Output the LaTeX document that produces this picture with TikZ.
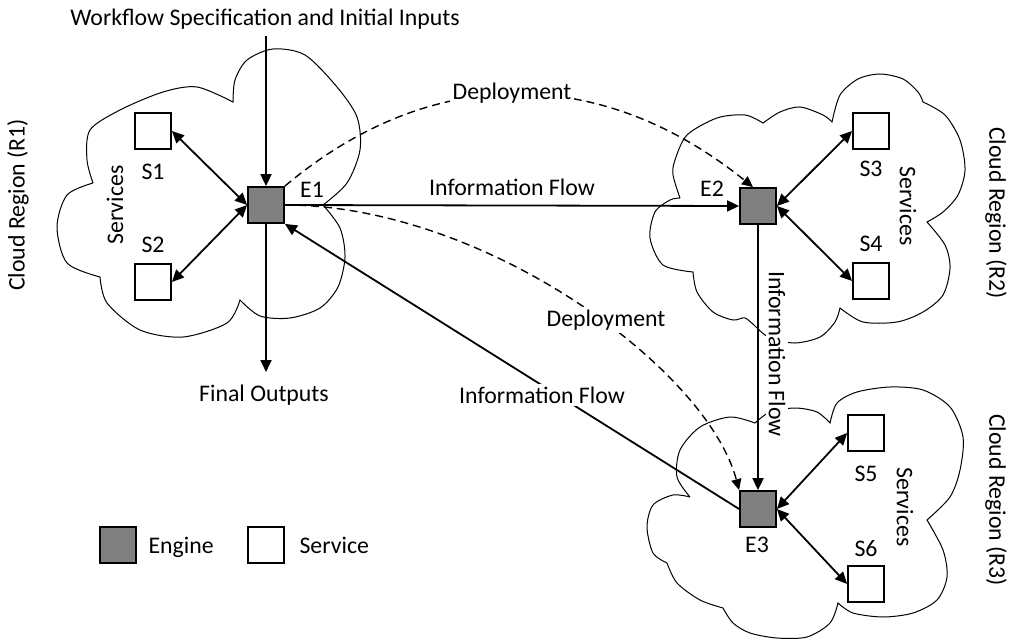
\documentclass[tikz,border=0pt]{standalone}
\usepackage{fontspec}
\setmainfont{Carlito}
\usetikzlibrary{arrows.meta}
\definecolor{engfill}{HTML}{808080}
\begin{document}
\begin{tikzpicture}[x=1pt,y=-1pt,
  font=\fontsize{23.8}{28}\selectfont,
  box/.style={draw, line width=1.8pt, minimum size=36pt, inner sep=0pt},
  engine/.style={box, fill=engfill},
  service/.style={box, fill=white},
  flow/.style={line width=1.8pt, -{Triangle[length=12pt,width=11pt]}},
  biflow/.style={line width=1.8pt, {Triangle[length=12pt,width=11pt]}-{Triangle[length=12pt,width=11pt]}},
  deploy/.style={line width=1.4pt, dash pattern=on 8pt off 5pt, -{Triangle[length=11pt,width=10pt]}},
  cloudline/.style={line width=1pt},
  cover/.style={fill=white, inner sep=3pt},
]
\useasboundingbox (0,0) rectangle (1016,639);

% clouds
\draw[cloudline] plot[smooth] coordinates {(93,183) (87,160) (90,130) (120,110) (163,92) (197,87) (233,102)}
 -- plot[smooth] coordinates {(233,102) (235,80) (247,60) (273,49) (305,55) (337,87) (357,117) (360,150) (347,183) (323,205)}
 -- plot[smooth] coordinates {(323,205) (340,228) (345,257) (338,287) (320,308) (290,318) (260,316) (240,300)}
 -- plot[smooth] coordinates {(240,300) (227,323) (183,337) (140,330) (107,303) (100,277)}
 -- plot[smooth] coordinates {(100,277) (67,263) (57,227) (67,195) (93,183)};

\draw[cloudline] plot[smooth] coordinates {(680,198) (673,175) (675,160) (687,135) (717,118) (745,115) (763,123)}
 -- plot[smooth] coordinates {(763,123) (780,112) (800,107) (823,115) (832,122)}
 -- plot[smooth] coordinates {(832,122) (840,95) (858,79) (880,74) (903,79) (918,92) (923,102)}
 -- plot[smooth] coordinates {(923,102) (945,115) (960,140) (965,170) (958,195) (943,212) (927,222)}
 -- plot[smooth] coordinates {(927,222) (945,245) (950,268) (943,295) (923,312) (897,322) (863,322) (840,308)}
 -- plot[smooth] coordinates {(840,308) (835,322) (820,337) (795,343) (770,338) (757,328)}
 -- plot[smooth] coordinates {(757,328) (745,318) (733,320) (713,312) (697,292) (693,272)}
 -- plot[smooth] coordinates {(693,272) (663,265) (650,238) (655,212) (670,200) (680,198)};

\draw[cloudline] plot[smooth] coordinates {(690,497) (677,477) (680,450) (700,427) (730,417) (755,423)}
 -- plot[smooth] coordinates {(755,423) (770,412) (795,408) (817,412) (830,423)}
 -- plot[smooth] coordinates {(830,423) (837,403) (857,392) (890,387) (923,390) (950,407) (963,437) (960,470) (950,497) (927,520)}
 -- plot[smooth] coordinates {(927,520) (943,550) (947,577) (937,600) (913,613) (883,617) (853,613) (838,603)}
 -- plot[smooth] coordinates {(838,603) (830,623) (807,637) (777,638) (750,633) (733,623) (723,608)}
 -- plot[smooth] coordinates {(723,608) (700,600) (677,583) (667,563)}
 -- plot[smooth] coordinates {(667,563) (653,553) (647,527) (653,505) (673,495) (690,497)};

% boxes
\node[engine] (E1) at (266,205) {};
\node[engine] (E2) at (758,206) {};
\node[engine] (E3) at (758,509) {};
\node[service] (S1) at (153,131) {};
\node[service] (S2) at (153,282) {};
\node[service] (S3) at (871,131) {};
\node[service] (S4) at (871,281) {};
\node[service] (S5) at (866,433) {};
\node[service] (S6) at (866,584) {};

% box labels
\node (lE1) at (312,190) {E1};
\node (lE2) at (712,189) {E2};
\node (lE3) at (757,545) {E3};
\node (lS1) at (153,172) {S1};
\node (lS2) at (153,245) {S2};
\node (lS3) at (871,169) {S3};
\node (lS4) at (871,244) {S4};
\node (lS5) at (866,474) {S5};
\node (lS6) at (866,549) {S6};

\node[rotate=90] (sv1) at (115,205) {Services};
\node[rotate=-90] (sv2) at (908,206) {Services};
\node[rotate=-90] (sv3) at (905,507) {Services};

\node[rotate=90] (cr1) at (18,205) {Cloud Region (R1)};
\node[rotate=-90] (cr2) at (996,213) {Cloud Region (R2)};
\node[rotate=-90] (cr3) at (996,500) {Cloud Region (R3)};

% service links
\draw[biflow] (S1.east) -- (E1.west);
\draw[biflow] (S2.east) -- (E1.west);
\draw[biflow] (S3.west) -- (E2.east);
\draw[biflow] (S4.west) -- (E2.east);
\draw[biflow] (S5.west) -- (E3.east);
\draw[biflow] (S6.west) -- (E3.east);

% inputs / outputs
\node (wf) at (265,19) {Workflow Specification and Initial Inputs};
\coordinate (wfend) at (266,36);
\draw[flow] (wfend) -- (E1.north);
\node (fo) at (264,395) {Final Outputs};
\coordinate (foend) at (266,372);
\draw[flow] (E1.south) -- (foend);

% information flow
\draw[flow] (E1.east) -- (E2.west);
\node (if1) at (512,187) {Information Flow};
\draw[flow] (E2.south) -- (E3.north);
\node[cover, rotate=-90] (if2) at (777,354) {Information Flow};
\draw[flow] (E3.west) -- (E1.south east);
\node[cover] (if3) at (542,395) {Information Flow};

% deployment
\draw[deploy] (E1.north east) .. controls (430,64) and (600,64) .. ([xshift=-5pt]E2.north);
\node[cover] (dp1) at (512,93) {Deployment};
\draw[deploy] (E1.east) .. controls (485,205) and (707,369) .. (E3.north west);
\node[cover] (dp2) at (606,320) {Deployment};

% legend
\node[engine] (LE) at (118,545) {};
\node[anchor=base west] (LEt) at (145,553) {Engine};
\node[service] (LS) at (266,545) {};
\node[anchor=base west] (LSt) at (296,553) {Service};
\end{tikzpicture}
\end{document}
